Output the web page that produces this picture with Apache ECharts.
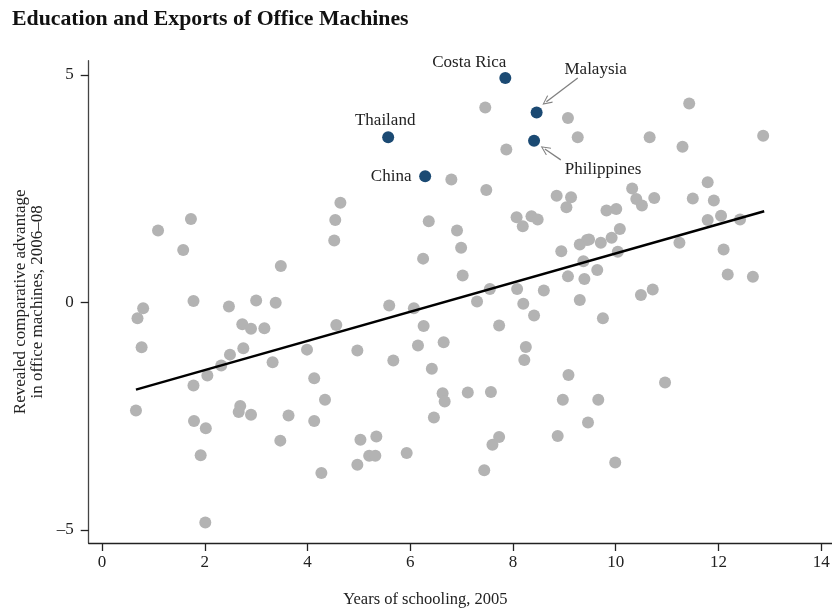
<!DOCTYPE html>
<html>
<head>
<meta charset="utf-8">
<script src="https://cdn.jsdelivr.net/npm/echarts@6/dist/echarts.min.js"></script>
<style>html,body{margin:0;padding:0;background:#fff}#c{width:832px;height:609px}</style>
</head>
<body>
<div id="c"></div>
<script>
// ---- data ----
var grayX = [4.64,4.54,4.52,1.73,1.09,1.58,3.48,1.78,2.47,3.00,3.38,0.80,7.46,9.07,9.26,7.87,6.80,7.48,8.85,9.13,9.04,6.36,8.07,8.36,8.48,8.19,6.91,6.99,6.25,8.94,9.30,9.44,9.37,7.02,9.07,9.39,7.55,8.08,8.60,9.30,7.30,5.59,6.07,8.20,11.43,10.66,11.30,12.87,11.79,10.32,10.40,10.51,10.75,11.50,11.91,9.82,10.01,10.08,11.79,12.05,12.42,9.48,9.71,9.92,10.04,11.24,12.10,9.64,12.18,12.67,10.49,10.72,0.69,0.77,2.73,2.90,3.16,4.56,2.75,2.49,2.32,2.05,1.78,3.99,3.32,4.97,4.13,4.34,0.66,1.79,2.02,2.69,2.66,2.90,3.63,4.13,3.47,1.92,4.27,4.97,5.03,2.01,8.41,6.26,7.73,6.15,6.65,5.67,6.42,8.25,8.22,9.08,8.97,6.63,6.67,7.12,7.57,6.46,9.46,5.34,5.20,5.32,5.93,7.73,7.60,8.87,7.44,9.75,10.96,9.66,9.99];
var grayY = [2.19,1.81,1.36,1.83,1.58,1.15,0.80,0.03,-0.09,0.04,-0.01,-0.13,4.28,4.05,3.63,3.36,2.70,2.47,2.34,2.31,2.09,1.78,1.87,1.89,1.82,1.67,1.58,1.20,0.96,1.12,1.27,1.37,0.90,0.59,0.57,0.51,0.29,0.29,0.26,0.05,0.02,-0.07,-0.13,-0.03,4.37,3.63,3.42,3.66,2.64,2.50,2.27,2.13,2.29,2.28,2.24,2.02,2.05,1.61,1.81,1.90,1.82,1.38,1.31,1.42,1.11,1.31,1.16,0.71,0.61,0.56,0.16,0.28,-0.35,-0.99,-0.48,-0.58,-0.57,-0.50,-1.01,-1.15,-1.39,-1.61,-1.83,-1.04,-1.32,-1.06,-1.67,-2.14,-2.38,-2.61,-2.77,-2.28,-2.41,-2.47,-2.49,-2.61,-3.04,-3.36,-3.75,-3.57,-3.02,-4.84,-0.29,-0.52,-0.51,-0.95,-0.88,-1.28,-1.46,-0.98,-1.27,-1.60,-2.14,-2.00,-2.18,-1.98,-1.97,-2.53,-2.64,-2.95,-3.37,-3.37,-3.31,-2.96,-3.13,-2.94,-3.69,-0.35,-1.76,-2.14,-3.52];
var hiNames = ['Costa Rica','Malaysia','Thailand','Philippines','China'];
var hiX = [7.85,8.46,5.57,8.41,6.29];
var hiY = [4.93,4.17,3.63,3.55,2.77];
var fitX = [0.66,12.89];
var fitY = [-1.92,2.00];
var xTicks = [0,2,4,6,8,10,12,14];
var yTicks = [-5,0,5];
// arrows: [fromX, fromY, toX, toY]
var malaysiaArrow = [9.26,4.93,8.65,4.41];
var philippinesArrow = [8.93,3.13,8.62,3.37];

// ---- presentation ----
var FONT = '"Liberation Serif", "DejaVu Serif", serif';
var labelOffsets = {
  'Costa Rica': [-36,-15],
  'Malaysia': [59,-43],
  'Thailand': [-3,-17],
  'Philippines': [69,29],
  'China': [-34,0]
};
var arrowPath = 'path://M0,0 L6,9 L4.9,9.7 L0,2.2 L-4.9,9.7 L-6,9 Z';

var grayData = grayX.map(function(x,i){return [x, grayY[i]];});
var hiData = hiNames.map(function(n,i){
  return {name:n, value:[hiX[i], hiY[i]], label:{offset: labelOffsets[n]}};
});
function arrowLine(a){
  return [{coord:[a[0],a[1]]},{coord:[a[2],a[3]]}];
}
function fmt(v){ return v < 0 ? '\u2013' + (-v) : String(v); }

var chart = echarts.init(document.getElementById('c'), null, {renderer:'canvas'});
chart.setOption({
  animation:false,
  backgroundColor:'#fff',
  title:{
    text:'Education and Exports of Office Machines',
    left:7, top:3,
    textStyle:{fontFamily:FONT, fontWeight:'bold', fontSize:21.8, color:'#111'}
  },
  grid:{left:88.7, top:60.7, right:0, bottom:66, containLabel:false, outerBoundsMode:'none'},
  xAxis:{
    type:'value', min:-0.26, max:14.21,
    name:'Years of schooling, 2005', nameLocation:'middle', nameGap:48,
    nameTextStyle:{fontFamily:FONT, fontSize:16.5, color:'#222', padding:[0,70,0,0]},
    axisLine:{show:true, onZero:false, lineStyle:{color:'#222', width:1.3}},
    axisTick:{show:true, length:8, inside:false, customValues:xTicks, lineStyle:{color:'#222', width:1.3}},
    axisLabel:{customValues:xTicks, fontFamily:FONT, fontSize:17, color:'#222', margin:11, formatter:fmt},
    splitLine:{show:false}
  },
  yAxis:{
    type:'value', min:-5.29, max:5.31,
    name:'Revealed comparative advantage\nin office machines, 2006\u201308', nameLocation:'middle', nameGap:42,
    nameTextStyle:{fontFamily:FONT, fontSize:17, color:'#222', lineHeight:17},
    axisLine:{show:true, onZero:false, lineStyle:{color:'#444', width:1.3}},
    axisTick:{show:true, length:8, customValues:yTicks, lineStyle:{color:'#222', width:1.3}},
    axisLabel:{customValues:yTicks, fontFamily:FONT, fontSize:17, color:'#222', margin:15, formatter:fmt},
    splitLine:{show:false}
  },
  series:[
    {
      type:'scatter', data:grayData, symbolSize:12, z:2,
      itemStyle:{color:'#b3b3b3', opacity:1}
    },
    {
      type:'line', data:fitX.map(function(x,i){return [x, fitY[i]];}),
      showSymbol:false, symbol:'none', z:3,
      lineStyle:{color:'#000', width:2.5}
    },
    {
      type:'scatter', data:hiData, symbolSize:12, z:4,
      itemStyle:{color:'#1b4a73', opacity:1},
      label:{show:true, position:'inside', formatter:'{b}', fontFamily:FONT, fontSize:17, color:'#222', align:'center', verticalAlign:'middle'},
      markLine:{
        silent:true, animation:false,
        symbol:['none', arrowPath], symbolSize:[9,10],
        label:{show:false},
        lineStyle:{color:'#808080', width:1.3, type:'solid'},
        data:[arrowLine(malaysiaArrow), arrowLine(philippinesArrow)]
      }
    }
  ]
});
</script>
</body>
</html>
